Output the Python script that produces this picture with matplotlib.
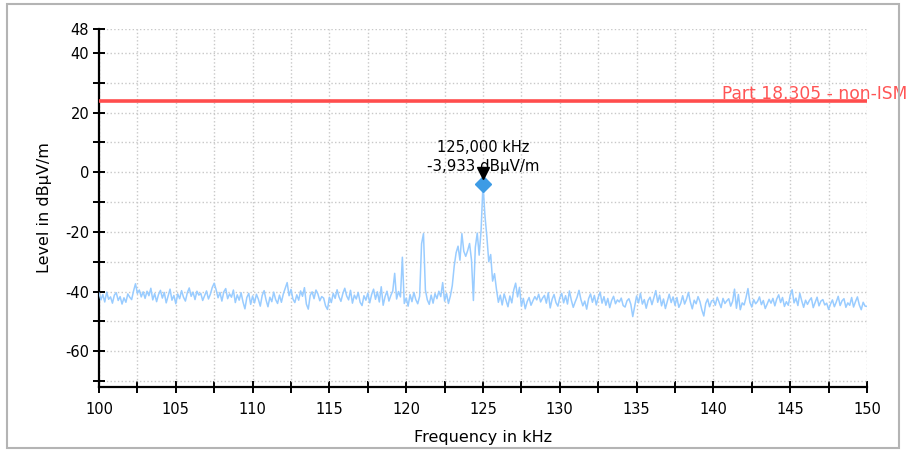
import numpy as np
import matplotlib
matplotlib.use("Agg")
import matplotlib.pyplot as plt
from matplotlib.patches import Rectangle
from matplotlib import transforms

plt.rcParams['font.family'] = ['DejaVu Sans']

# spectrum trace, 100..150 kHz, one value every 0.125 kHz
f_start, f_step = 100.0, 0.125
level = [
    -40.5, -42.8, -41.0, -43.5, -40.2, -42.6, -41.8, -43.9,
    -41.2, -40.4, -43.0, -41.7, -44.2, -42.1, -43.6, -40.8,
    -41.9, -42.7, -39.8, -37.4, -40.6, -39.5, -41.8, -40.1,
    -42.3, -39.9, -41.4, -38.9, -42.8, -40.7, -43.4, -41.0,
    -39.6, -42.2, -40.3, -43.8, -41.5, -39.2, -42.9, -41.3,
    -44.1, -40.8, -42.4, -39.7, -41.9, -43.2, -40.4, -38.8,
    -41.6, -40.2, -42.7, -39.9, -41.2, -40.6, -43.0, -41.4,
    -39.8, -42.5, -40.9, -38.6, -37.2, -39.4, -42.1, -40.3,
    -43.2, -40.1, -39.0, -42.4, -40.8, -41.9, -39.5, -43.7,
    -41.1, -42.9, -40.4, -43.5, -45.8, -42.0, -40.6, -44.3,
    -41.5, -43.8, -40.9, -42.6, -44.9, -41.3, -39.7, -42.8,
    -45.1, -41.9, -43.4, -40.2, -42.7, -44.0, -41.2, -43.6,
    -40.8, -38.9, -37.0, -41.4, -39.3, -42.5, -43.7, -41.1,
    -42.9, -39.8, -41.6, -38.7, -44.2, -45.9, -41.3, -40.1,
    -42.4, -39.5, -40.8, -43.1, -41.7, -42.2, -44.8, -46.0,
    -41.9, -43.7, -40.6, -42.3, -39.4, -41.8, -43.3, -40.7,
    -38.9, -41.5, -42.8, -39.6, -43.9, -41.2, -42.5, -40.3,
    -43.6, -44.7, -41.4, -42.9, -40.5, -43.8, -41.0, -39.2,
    -42.6, -40.1, -43.5, -38.4, -44.6, -41.7, -39.9, -43.2,
    -41.3, -39.8, -33.9, -42.5, -40.0, -41.8, -28.5, -44.0,
    -42.2, -44.9, -41.0, -43.4, -40.3, -42.7, -44.1, -41.6,
    -24.0, -20.6, -39.5, -42.8, -44.3, -41.2, -43.9, -40.7,
    -42.4, -39.9, -41.7, -37.0, -43.2, -40.6, -44.0, -41.5,
    -38.0, -31.5, -27.0, -24.8, -29.5, -20.6, -26.5, -28.2,
    -26.3, -23.9, -29.4, -43.0, -25.2, -20.4, -27.8, -19.5,
    -3.93, -14.5, -21.5, -30.0, -27.6, -36.5, -34.0, -39.2,
    -43.6, -41.2, -44.5, -40.8, -42.9, -45.1, -41.5, -43.8,
    -39.5, -37.2, -41.8, -38.6, -44.9, -42.3, -45.8, -43.4,
    -42.0, -44.6, -43.1, -41.7, -42.8, -40.9, -43.5, -42.2,
    -41.3, -43.9, -40.4, -45.5, -42.6, -41.0, -43.7, -44.9,
    -42.1, -40.6, -43.8, -41.4, -44.2, -39.8, -42.9, -45.3,
    -43.5, -41.9, -39.6, -42.7, -44.8, -43.2, -45.9, -42.4,
    -40.8, -43.6, -41.3, -44.5, -42.0, -40.2, -43.9, -41.7,
    -44.6, -42.3, -45.4, -43.0, -41.6, -44.1, -42.8, -43.5,
    -42.2, -44.7, -45.2, -43.1, -42.4, -44.3, -48.4, -45.0,
    -41.5, -43.8, -40.6, -44.2, -42.7, -45.6, -43.0, -41.9,
    -44.4, -42.1, -39.7, -43.6, -41.2, -44.8, -42.5, -45.7,
    -43.3, -40.9, -43.7, -41.8, -44.6, -42.0, -45.3, -43.9,
    -41.4, -44.2, -42.6, -40.3, -43.5, -45.8, -42.9, -44.1,
    -41.7, -43.4, -46.2, -48.2, -44.0, -42.5, -45.1, -43.2,
    -42.8, -44.6, -41.9, -43.7, -45.4, -42.3, -44.0, -43.1,
    -42.4, -44.9, -43.3, -39.2, -45.6, -41.0, -46.1, -43.8,
    -44.5, -42.0, -39.0, -43.6, -45.2, -42.7, -44.1, -43.3,
    -41.8, -44.4, -43.0, -45.7, -44.2, -42.6, -43.9, -42.3,
    -44.8, -42.5, -41.1, -43.7, -42.0, -45.0, -43.4, -44.6,
    -41.3, -39.4, -43.8, -42.2, -44.7, -40.6, -43.1, -45.3,
    -42.9, -44.3, -43.0, -42.1, -45.4, -43.6, -41.9, -44.8,
    -43.2, -42.7, -44.5, -43.9, -46.0, -44.2, -42.8, -45.1,
    -43.5, -41.6, -44.7, -43.1, -42.4, -45.3, -43.8, -44.6,
    -42.0, -45.2, -43.4, -41.8, -44.5, -46.1, -43.6, -44.9,
    -45.0,
]
freq = f_start + f_step * np.arange(len(level))

limit_level = 23.8
limit_label = "Part 18.305 - non-ISM"
peak_freq = 125.0
peak_level = -3.933
peak_text = ["125,000 kHz", "-3,933 dBµV/m"]

x_ticks = np.arange(100, 150.1, 2.5)
x_tick_labels = [str(int(t)) if t % 5 == 0 else "" for t in x_ticks]
y_ticks = [-70, -60, -50, -40, -30, -20, -10, 0, 10, 20, 30, 40, 48]
y_tick_labels = ["", "-60", "", "-40", "", "-20", "", "0", "", "20", "", "40", "48"]

fig = plt.figure(figsize=(9.13, 4.5), dpi=100)
ax = fig.add_axes([99/913, 1-387/450, (867-99)/913, (387-29)/450])

ax.plot(freq, level, color="#99ccff", lw=1.1, zorder=3)
ax.axhline(limit_level, color="#ff4d4d", lw=2.6, zorder=4)
ax.text(140.55, limit_level + 0.8, limit_label, color="#ff5555", fontsize=12.3,
        ha="left", va="baseline", clip_on=False, zorder=5)

# marker: blue diamond with black pointer above
ax.plot(peak_freq, peak_level, marker="D", ms=8, color="#3d9be5", zorder=6)
off = transforms.offset_copy(ax.transData, fig=fig, x=0, y=8, units="points")
ax.plot(peak_freq, peak_level, marker="v", ms=8, color="black", transform=off, zorder=7)
ax.text(peak_freq, 8.3, peak_text[0], ha="center", va="center", fontsize=10.5, zorder=7)
ax.text(peak_freq, 2.0, peak_text[1], ha="center", va="center", fontsize=10.8, zorder=7)

ax.set_xlim(100, 150)
ax.set_ylim(-72, 48)
ax.set_xticks(x_ticks)
ax.set_xticklabels(x_tick_labels)
ax.set_yticks(y_ticks)
ax.set_yticklabels(y_tick_labels)
ax.tick_params(direction="inout", length=8, width=1.4, labelsize=10.5, pad=3)
ax.tick_params(axis="x", pad=7)

ax.grid(True, color="#c8c8c8", ls=":", lw=1.0)
for s in ["top", "right"]:
    ax.spines[s].set_visible(False)
for s in ["left", "bottom"]:
    ax.spines[s].set_linewidth(1.6)

ax.set_xlabel("Frequency in kHz", fontsize=11.5)
ax.set_ylabel("Level in dBµV/m", fontsize=11.5)
ax.xaxis.set_label_coords(0.5, -0.12)
ax.yaxis.set_label_coords(-0.061, 0.5)

fig.patches.append(Rectangle((7/913, 2/450), 892/913, 444/450, transform=fig.transFigure,
                             fill=False, edgecolor="#b4b4b4", lw=1.5))

fig.savefig("out.png", dpi=100)
